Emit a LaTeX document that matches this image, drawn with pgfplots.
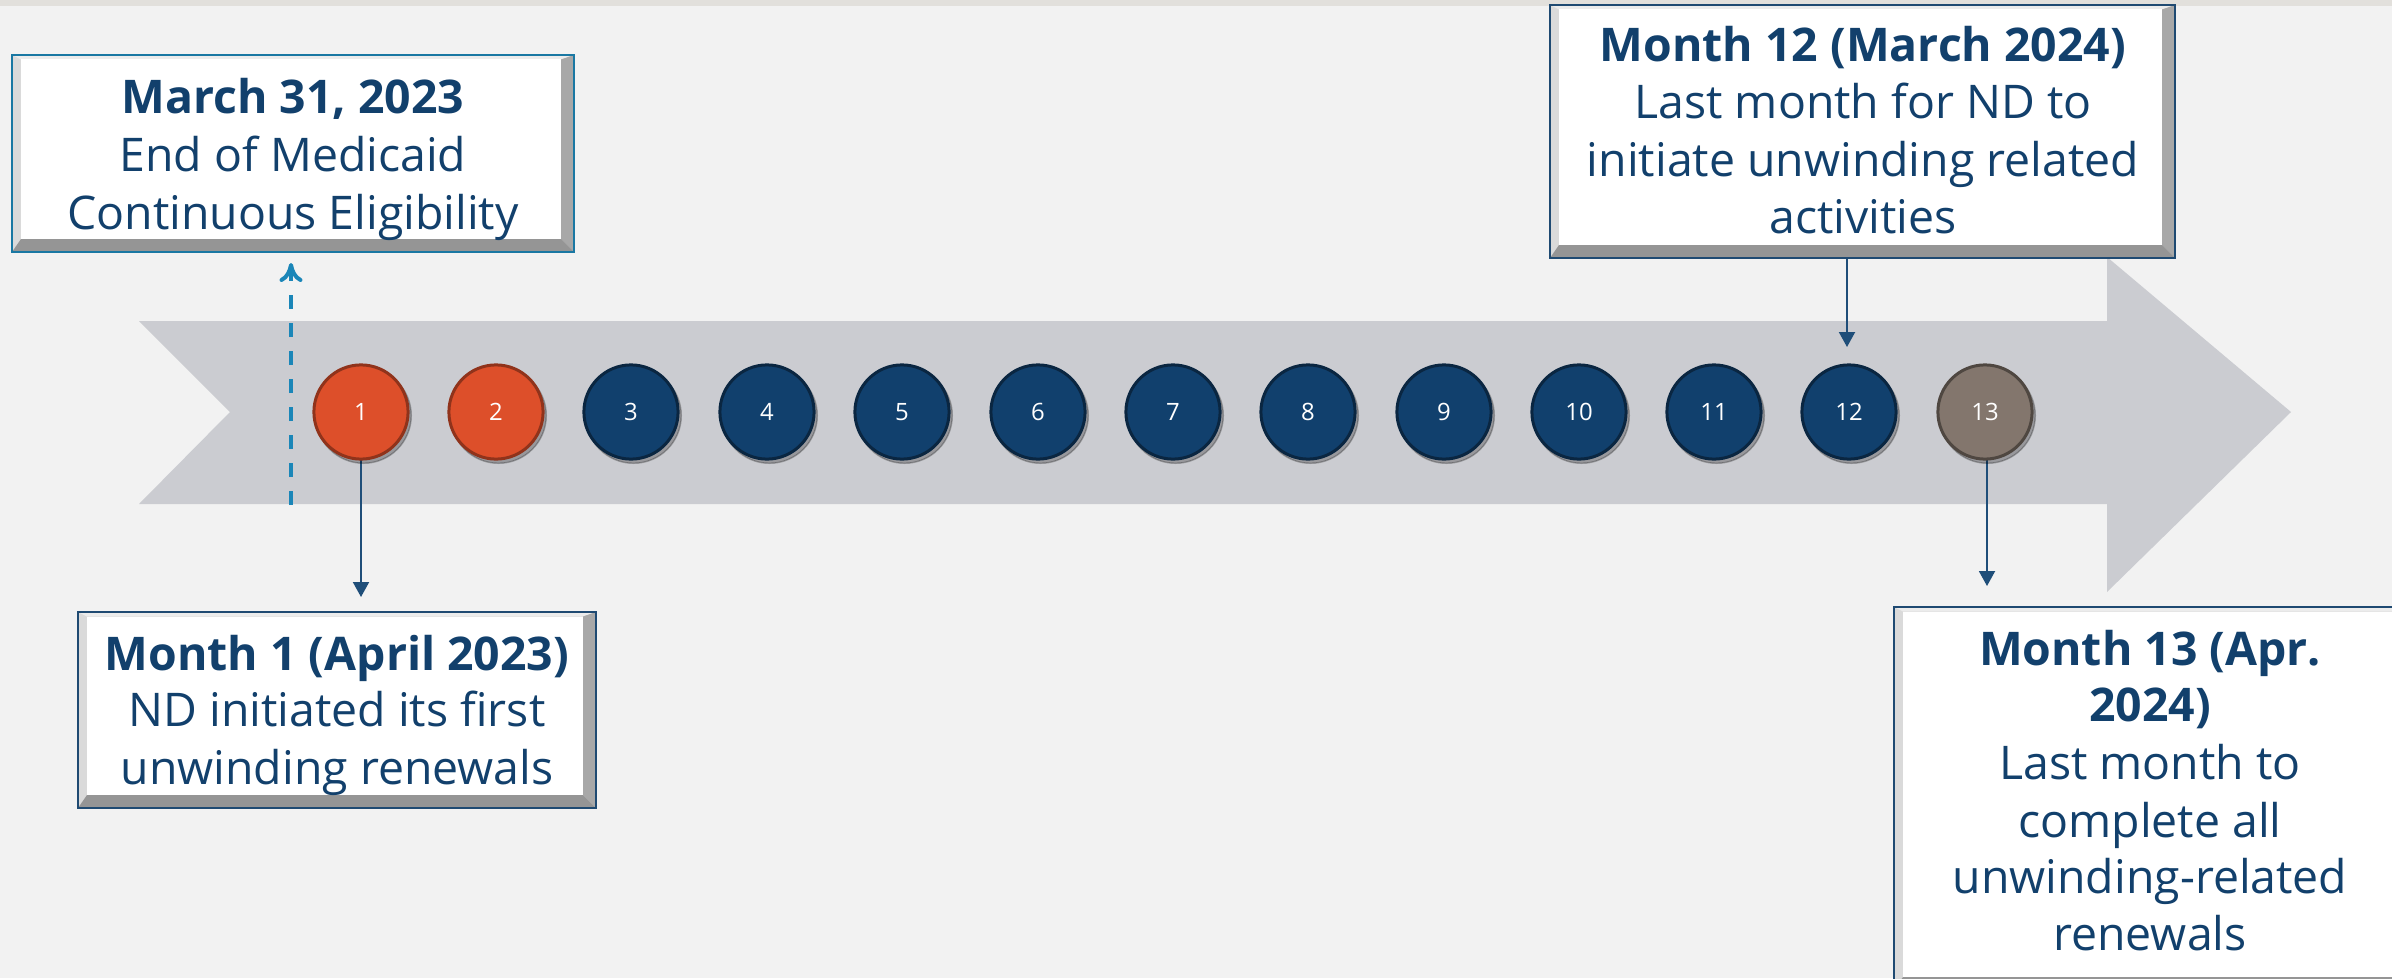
\documentclass[border=0pt]{standalone}
\usepackage{pgfplots}
\pgfplotsset{compat=1.18}
\usepackage{pgfplotstable}
\usetikzlibrary{arrows.meta}
\usepackage{fontspec}
\setmainfont{Open Sans}
\definecolor{bgc}{HTML}{F2F2F2}
\definecolor{stripc}{HTML}{E2E0DC}
\definecolor{bandc}{HTML}{CBCCD1}
\definecolor{navyc}{HTML}{11406D}
\definecolor{orangec}{HTML}{DD4F2A}
\definecolor{taupec}{HTML}{83766D}
\definecolor{txtc}{HTML}{12406C}
\definecolor{dashc}{HTML}{1B86B8}
\definecolor{connc}{HTML}{1F4E79}
\definecolor{bordA}{HTML}{1A78A3}
\definecolor{bordN}{HTML}{1F4A72}
\definecolor{bvL}{HTML}{DADADA}
\definecolor{bvT}{HTML}{ECECEC}
\definecolor{bvR}{HTML}{A8A8A8}
\definecolor{bvB}{HTML}{959595}

\pgfplotstableread{
x y lab
361 412 1
496 412 2
}\orangetab
\pgfplotstableread{
x y lab
631 412 3
767 412 4
902 412 5
1038 412 6
1173 412 7
1308 412 8
1444 412 9
1579 412 10
1714 412 11
1849 412 12
}\navytab
\pgfplotstableread{
x y lab
1985 412 13
}\taupetab

\newcommand{\bevelbox}[5]{%
 \fill[bvL] (axis cs:#1,#2) rectangle (axis cs:#3,#4);
 \fill[bvT] (axis cs:#1,#2) -- (axis cs:#3,#2) -- ([xshift=-1.3mm,yshift=-0.45mm]axis cs:#3,#2) -- ([xshift=0.9mm,yshift=-0.45mm]axis cs:#1,#2) -- cycle;
 \fill[bvR] (axis cs:#3,#2) -- (axis cs:#3,#4) -- ([xshift=-1.3mm,yshift=1.3mm]axis cs:#3,#4) -- ([xshift=-1.3mm,yshift=-0.45mm]axis cs:#3,#2) -- cycle;
 \fill[bvB] (axis cs:#1,#4) -- (axis cs:#3,#4) -- ([xshift=-1.3mm,yshift=1.3mm]axis cs:#3,#4) -- ([xshift=0.9mm,yshift=1.3mm]axis cs:#1,#4) -- cycle;
 \fill[white] ([xshift=0.9mm,yshift=-0.45mm]axis cs:#1,#2) rectangle ([xshift=-1.3mm,yshift=1.3mm]axis cs:#3,#4);
 \draw[#5, line width=0.22mm] (axis cs:#1,#2) rectangle (axis cs:#3,#4);
}
\newcommand{\tline}[3]{\node[anchor=base, text=txtc, inner sep=0pt, font=\fontsize{13.2pt}{16pt}\selectfont] at (axis cs:#1,#2) {#3};}
\newcommand{\bline}[3]{\node[anchor=base, text=txtc, inner sep=0pt, font=\fontsize{13.2pt}{16pt}\selectfont\bfseries] at (axis cs:#1,#2) {#3};}

\begin{document}
\begin{tikzpicture}
\begin{axis}[
  scale only axis, width=239.2mm, height=97.8mm,
  xmin=0, xmax=2392, ymin=0, ymax=978, y dir=reverse,
  hide axis,
  point meta=explicit symbolic,
  every node near coord/.append style={anchor=center, text=white, font=\fontsize{6.8pt}{8pt}\selectfont, inner sep=0pt},
]
% background
\fill[bgc] (axis cs:0,0) rectangle (axis cs:2392,978);
\fill[stripc] (axis cs:0,0) rectangle (axis cs:2392,6);
% band arrow
\addplot[fill=bandc, draw=none] coordinates {(139,321) (2107,321) (2107,257) (2291,412) (2107,592) (2107,504) (139,504) (230,412)} -- cycle;
% dashed arrow
\draw[dashc, line width=0.4mm, dash pattern=on 1.4mm off 1.4mm, -{To[length=1.9mm,width=2.3mm,line width=0.4mm]}] (axis cs:291,505) -- (axis cs:291,263);
% connectors
\draw[connc, line width=0.2mm, -{Triangle[length=1.5mm,width=1.6mm]}] (axis cs:361,460) -- (axis cs:361,597);
\draw[connc, line width=0.2mm, -{Triangle[length=1.5mm,width=1.6mm]}] (axis cs:1847,258) -- (axis cs:1847,347);
\draw[connc, line width=0.2mm, -{Triangle[length=1.5mm,width=1.6mm]}] (axis cs:1987,458) -- (axis cs:1987,586);
% circle shadows
\addplot[only marks, mark=*, mark size=13.6pt, mark options={fill=black, draw=none, opacity=0.25, xshift=0.25mm, yshift=-0.35mm}] table[x=x,y=y] {\orangetab};
\addplot[only marks, mark=*, mark size=13.6pt, mark options={fill=black, draw=none, opacity=0.25, xshift=0.25mm, yshift=-0.35mm}] table[x=x,y=y] {\navytab};
\addplot[only marks, mark=*, mark size=13.6pt, mark options={fill=black, draw=none, opacity=0.25, xshift=0.25mm, yshift=-0.35mm}] table[x=x,y=y] {\taupetab};
% circles
\addplot[only marks, mark=*, mark size=13.4pt, mark options={fill=orangec, draw=orangec!65!black, line width=0.3mm}, nodes near coords] table[x=x,y=y,meta=lab] {\orangetab};
\addplot[only marks, mark=*, mark size=13.4pt, mark options={fill=navyc, draw=navyc!60!black, line width=0.3mm}, nodes near coords] table[x=x,y=y,meta=lab] {\navytab};
\addplot[only marks, mark=*, mark size=13.4pt, mark options={fill=taupec, draw=taupec!60!black, line width=0.3mm}, nodes near coords] table[x=x,y=y,meta=lab] {\taupetab};
% boxes
\bevelbox{12}{55}{574}{252}{bordA}
\bline{293}{114}{March 31, 2023}
\tline{293}{171}{End of Medicaid}
\tline{293}{229}{Continuous Eligibility}

\bevelbox{78}{612}{596}{808}{bordN}
\bline{337}{670}{Month 1 (April 2023)}
\tline{337}{726}{ND initiated its first}
\tline{337}{784}{unwinding renewals}

\bevelbox{1550}{5}{2175}{258}{bordN}
\bline{1863}{62}{Month 12 (March 2024)}
\tline{1863}{118}{Last month for ND to}
\tline{1863}{177}{initiate unwinding related}
\tline{1863}{233}{activities}

\bevelbox{1894}{607}{2406}{990}{bordN}
\bline{2150}{665}{Month 13 (Apr.}
\bline{2150}{721}{2024)}
\tline{2150}{779}{Last month to}
\tline{2150}{837}{complete all}
\tline{2150}{893}{unwinding-related}
\tline{2150}{950}{renewals}
\end{axis}
\pgfresetboundingbox
\path[use as bounding box] (current axis.south west) rectangle (current axis.north east);
\end{tikzpicture}
\end{document}
